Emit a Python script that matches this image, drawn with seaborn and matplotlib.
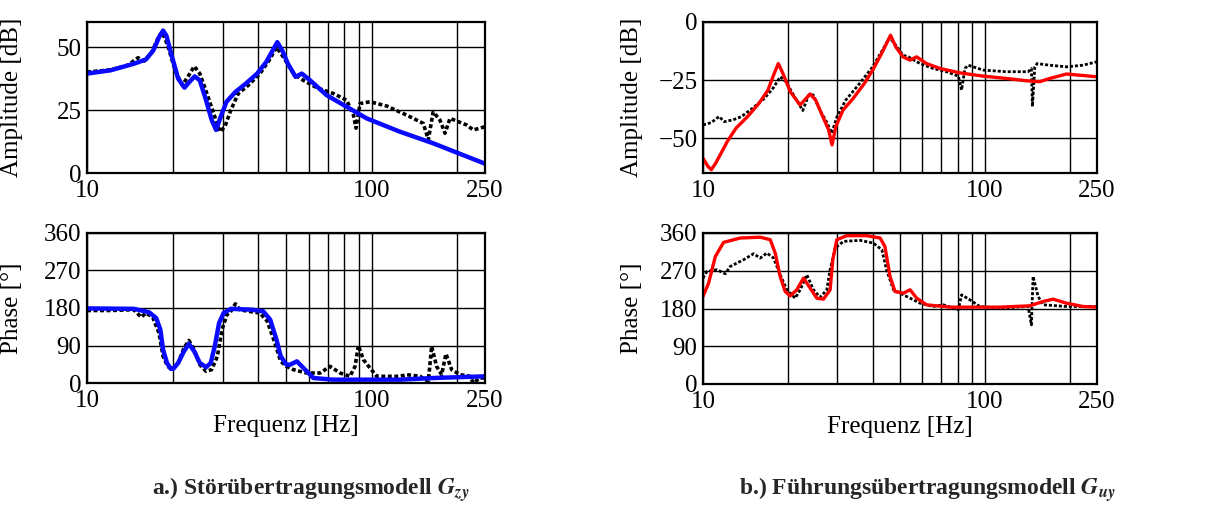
import matplotlib
matplotlib.use("Agg")
import matplotlib.pyplot as plt
import seaborn as sns
from matplotlib.ticker import FixedLocator, FixedFormatter, NullLocator, NullFormatter

# ---------------- data ----------------
# a.) Stoerübertragungsmodell G_zy : amplitude
za_model_f = [10, 12.1, 14.6, 16.1, 17.1, 17.9, 18.5, 19.0, 19.9, 20.9, 22.0, 22.9, 23.9, 24.9, 26.2,
              27.4, 28.4, 29.5, 30.9, 33.2, 36.1, 39.6, 42.6, 45.2, 46.6, 48.5, 50.8, 54.0, 56.8,
              60.8, 69.5, 81.7, 96.0, 125.7, 164.4, 250]
za_model_db = [39.5, 40.8, 43.4, 45.1, 48.7, 53.9, 56.6, 54.6, 46.1, 37.5, 33.9, 36.2, 38.4, 36.8,
               28.9, 21.1, 17.1, 22.4, 28.3, 32.2, 35.5, 39.5, 44.1, 49.3, 52.0, 48.7, 43.4, 38.2,
               39.5, 36.8, 30.9, 26.3, 21.7, 16.4, 11.8, 3.7]
za_meas_f = [10, 12.1, 13.9, 15.1, 15.9, 16.9, 17.9, 18.4, 19.2, 20.4, 21.6, 22.6, 23.8, 24.9, 26.5,
             28.1, 29.3, 30.5, 32.0, 34.0, 36.9, 40.5, 43.6, 46.3, 48.5, 51.5, 53.3, 56.1, 64.1,
             73.3, 81.7, 86.3, 88.1, 91.0, 98.6, 113, 132.7, 151.8, 158.1, 164.4, 173.7, 180.9,
             188.4, 215.4, 227.4, 250]
za_meas_db = [40.1, 41.0, 42.8, 45.8, 44.5, 48.0, 54.6, 55.9, 50.7, 40.8, 34.9, 38.2, 42.4, 39.5,
              30.9, 22.4, 16.4, 18.4, 25.0, 31.6, 34.9, 39.5, 44.7, 50.0, 46.7, 42.1, 39.5, 37.5,
              33.9, 31.6, 28.9, 23.0, 17.8, 27.6, 28.3, 26.6, 23.0, 19.7, 13.2, 24.3, 21.0, 15.8,
              21.7, 19.1, 17.1, 18.4]

# a.) phase
zp_model_f = [10, 14.6, 16.5, 17.5, 18.1, 18.5, 19.1, 19.7, 20.1, 20.9, 21.9, 22.8, 23.8, 24.9, 26.2,
              27.2, 28.1, 29.1, 30.2, 32.0, 37.8, 41.6, 44.0, 46.3, 47.9, 50.2, 51.7, 54.6, 57.6,
              62.4, 73.3, 125.7, 164.4, 250]
zp_model_deg = [179, 178, 170, 156, 128, 80, 48, 34, 34, 48, 76, 94, 76, 48, 38,
                48, 88, 144, 168, 178, 176, 172, 152, 104, 64, 44, 44, 52, 36,
                12, 8, 8, 12, 16]
zp_meas_f = [10, 12.1, 14.6, 15.5, 16.1, 17.0, 17.9, 18.5, 19.2, 19.9, 20.9, 21.9, 22.8, 23.8, 24.9,
             26.2, 27.4, 28.7, 29.8, 31.0, 32.0, 33.2, 34.4, 36.9, 40.5, 43.0, 45.7, 47.9, 50.2,
             53.1, 59.1, 65.9, 71.4, 77.4, 83.9, 87.4, 89.8, 93.5, 98.6, 104.2, 125.7, 132.7,
             147.8, 158.1, 162.4, 169.0, 176.1, 182.3, 190.9, 204.2, 221.3, 227.4, 239.9, 250]
zp_meas_deg = [174, 174, 176, 158, 168, 158, 120, 64, 40, 32, 48, 84, 102, 80, 44,
               28, 32, 64, 128, 164, 172, 190, 176, 172, 168, 148, 96, 52, 40,
               32, 24, 24, 40, 24, 16, 40, 90, 56, 36, 16, 16, 20,
               16, 4, 88, 40, 20, 70, 32, 20, 16, 0, 12, 12]

# b.) Führungsübertragungsmodell G_uy : amplitude
ua_model_f = [10, 10.4, 10.7, 11.1, 11.6, 12.2, 13.1, 14.4, 15.8, 17.0, 17.9, 18.5, 19.2, 20.4,
              22.1, 23.2, 24.0, 25.1, 26.6, 27.9, 28.7, 29.6, 31.4, 34.1, 37.4, 40.0, 43.0, 46.3,
              48.3, 51.2, 54.3, 57.3, 62.1, 69.3, 81.6, 98.6, 119.3, 140.5, 156.6, 169.9, 194.7,
              217.1, 250]
ua_model_db = [-58.6, -62.1, -63.6, -60.7, -56.4, -51.4, -45.7, -40.7, -35.0, -29.3, -22.1, -17.9,
               -22.1, -30.0, -35.7, -32.9, -31.0, -33.6, -40.7, -46.4, -52.9, -45.0, -37.9, -32.9,
               -26.4, -20.7, -13.6, -5.7, -10.7, -15.0, -16.4, -15.0, -17.9, -20.0, -21.9, -23.3,
               -24.3, -25.3, -25.7, -24.3, -22.4, -22.9, -23.6]
ua_meas_f = [10, 10.7, 11.4, 11.9, 12.8, 13.7, 15.0, 16.5, 17.7, 18.8, 19.7, 21.1, 22.6, 23.7, 24.6,
             26.0, 27.6, 28.6, 29.9, 32.1, 35.6, 40.0, 44.0, 45.9, 48.3, 51.2, 53.5, 58.9, 65.6,
             73.1, 80.5, 82.7, 85.0, 87.3, 98.6, 119.3, 142.4, 146.3, 147.5, 150.4, 153.3, 169.9,
             194.7, 223, 250]
ua_meas_db = [-44.3, -43.3, -40.7, -42.9, -42.1, -40.7, -37.1, -32.9, -28.6, -23.6, -25.7, -32.1,
              -38.1, -31.4, -31.4, -37.9, -43.6, -47.9, -40.7, -33.6, -27.1, -19.3, -10.7, -6.7,
              -10.0, -14.3, -15.0, -17.9, -20.0, -21.4, -23.3, -29.3, -20.0, -18.6, -20.7, -21.4,
              -21.4, -20.0, -36.4, -19.3, -17.9, -18.6, -19.3, -18.6, -17.1]

# b.) phase
up_model_f = [10, 10.47, 11.06, 11.83, 13.56, 15.96, 17.32, 18.04, 18.79, 19.57, 20.39, 21.52, 22.73,
              24.0, 25.34, 26.76, 28.25, 28.87, 29.83, 32.36, 38.1, 42.5, 44.2, 46.1, 48.0, 51.4,
              54.3, 57.3, 62.1, 75.2, 113, 144.4, 160.9, 174.6, 194.7, 223, 250]
up_model_deg = [208.7, 240.5, 304, 337.7, 348, 350, 344, 312, 256, 220.6, 210, 224.6, 252.5,
                228.6, 204.7, 202.3, 224.6, 296, 344, 353.6, 353.6, 348, 328, 256, 220.6, 216.6,
                224.6, 204.7, 188.8, 183.2, 183.2, 186.4, 196.7, 202.3, 192.7, 184.8, 183.2]
up_meas_f = [10, 10.33, 11.21, 12.0, 12.5, 13.93, 15.12, 15.96, 16.86, 17.8, 18.79, 19.84, 21.23,
             22.12, 23.36, 24.66, 26.04, 27.5, 28.25, 29.43, 31.5, 36.1, 40.2, 43.1, 44.8, 47.4,
             52.8, 58.9, 65.6, 71.2, 80.5, 82.7, 88.5, 96.0, 113, 142.4, 146.3, 148.3, 154.5,
             160.9, 194.7, 250]
up_meas_deg = [252.5, 268.4, 272.4, 262.8, 280.3, 296.3, 310.6, 300.2, 312.2, 300.2, 260.4, 224.6,
               204.7, 224.6, 260.4, 224.6, 207, 224.6, 272.4, 324, 340, 342.5, 336, 320, 272.4,
               224.6, 208.7, 192.7, 184.8, 188.8, 176.8, 212.6, 200.7, 184.8, 180.8, 184.8, 141,
               256.5, 208.7, 188.8, 184.8, 184.8]

x_major = [10, 100, 250]
x_major_labels = ["10", "100", "250"]
x_minor = [20, 30, 40, 50, 60, 70, 80, 90, 200]
za_yticks = [0, 25, 50]
ua_yticks = [-50, -25, 0]
phase_yticks = [0, 90, 180, 270, 360]

xlabel = "Frequenz [Hz]"
amp_label = "Amplitude [dB]"
phase_label = "Phase [°]"
caption_a = r"a.) Störübertragungsmodell $\mathbfit{G}_{\mathbfit{zy}}$"
caption_b = r"b.) Führungsübertragungsmodell $\mathbfit{G}_{\mathbfit{uy}}$"

# ---------------- styling ----------------
sns.set_theme(style="white")
plt.rcParams['font.family'] = ['Liberation Serif', 'DejaVu Serif']
plt.rcParams['mathtext.fontset'] = 'stix'

FS = 18
fig = plt.figure(figsize=(12.05, 5.07), dpi=100)

W, H = 1205.0, 507.0
def pos(x0, x1, ytop, ybot):
    return [x0 / W, 1 - ybot / H, (x1 - x0) / W, (ybot - ytop) / H]

ax_za = fig.add_axes(pos(87, 485, 22, 173))
ax_zp = fig.add_axes(pos(87, 485, 233, 383))
ax_ua = fig.add_axes(pos(703, 1097, 22, 173))
ax_up = fig.add_axes(pos(703, 1097, 233, 384))

def draw(ax, mf, mv, sf, sv, color, lw, meas_lw):
    ax.set_xscale("log")
    sns.lineplot(x=mf, y=mv, ax=ax, estimator=None, sort=False, color="black",
                 linestyle=(0, (1.1, 0.7)), linewidth=meas_lw)
    sns.lineplot(x=sf, y=sv, ax=ax, estimator=None, sort=False, color=color, linewidth=lw,
                 solid_capstyle="round", solid_joinstyle="round")

draw(ax_za, za_meas_f, za_meas_db, za_model_f, za_model_db, "#0a0aff", 3.2, 2.6)
draw(ax_zp, zp_meas_f, zp_meas_deg, zp_model_f, zp_model_deg, "#0a0aff", 3.2, 2.6)
draw(ax_ua, ua_meas_f, ua_meas_db, ua_model_f, ua_model_db, "#ff0000", 2.4, 2.0)
draw(ax_up, up_meas_f, up_meas_deg, up_model_f, up_model_deg, "#ff0000", 2.4, 2.0)

for ax, ylim, yt, ylab in [(ax_za, (0, 60), za_yticks, amp_label),
                           (ax_zp, (0, 360), phase_yticks, phase_label),
                           (ax_ua, (-65, 0), ua_yticks, amp_label),
                           (ax_up, (0, 360), phase_yticks, phase_label)]:
    ax.set_xlim(10, 250)
    ax.set_ylim(*ylim)
    ax.xaxis.set_major_locator(FixedLocator(x_major))
    ax.xaxis.set_major_formatter(FixedFormatter(x_major_labels))
    ax.xaxis.set_minor_locator(FixedLocator(x_minor))
    ax.xaxis.set_minor_formatter(NullFormatter())
    ax.yaxis.set_major_locator(FixedLocator(yt))
    ax.yaxis.set_minor_locator(NullLocator())
    ax.grid(True, which="both", axis="x", color="black", linewidth=1.0)
    ax.grid(True, which="major", axis="y", color="black", linewidth=1.0)
    ax.set_axisbelow(True)
    ax.tick_params(axis="both", which="both", length=0, labelsize=FS, colors="black")
    ax.tick_params(axis="x", pad=5)
    ax.tick_params(axis="y", pad=4)
    for s in ax.spines.values():
        s.set_color("black")
        s.set_linewidth(1.6)
        s.set_visible(True)
    ax.set_xlabel("")
    ax.set_ylabel(ylab, fontsize=FS, color="black")

ax_za.yaxis.set_label_coords(-0.16, 0.5)
ax_zp.yaxis.set_label_coords(-0.16, 0.5)
ax_ua.yaxis.set_label_coords(-0.152, 0.5)
ax_up.yaxis.set_label_coords(-0.152, 0.5)

for ax in (ax_zp, ax_up):
    ax.set_xlabel(xlabel, fontsize=FS, color="black")
    ax.xaxis.set_label_coords(0.5, -0.215)

fig.text(0.258, 0.034, caption_a, ha="center", va="center", fontsize=17, fontweight="bold")
fig.text(0.77, 0.034, caption_b, ha="center", va="center", fontsize=17, fontweight="bold")

fig.savefig("out.png", dpi=100, facecolor="white")
